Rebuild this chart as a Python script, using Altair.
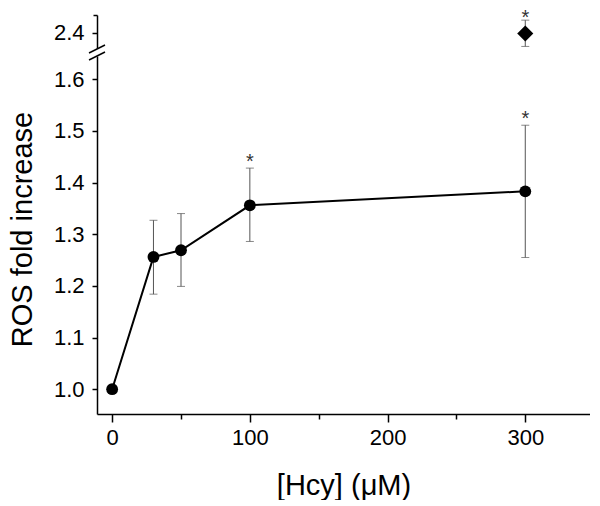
import altair as alt
import pandas as pd

# lower segment data
conc = [0, 30, 50, 100, 300]
ros = [1.0, 1.256, 1.269, 1.356, 1.383]
err_lo = [None, 1.184, 1.199, 1.286, 1.255]
err_hi = [None, 1.327, 1.340, 1.428, 1.511]
stars = ["", "", "", "*", "*"]

# upper (broken-axis) segment data
conc_top = [300]
ros_top = [2.398]
err_lo_top = [2.373]
err_hi_top = [2.424]
stars_top = ["*"]

x_ticks = [0, 50, 100, 150, 200, 250, 300]
y_ticks = [1.0, 1.05, 1.1, 1.15, 1.2, 1.25, 1.3, 1.35, 1.4, 1.45, 1.5, 1.55, 1.6]
y_ticks_top = [2.4, 2.434]

FONT = "Liberation Sans"
XDOM = [-11, 347]
W = 493

df = pd.DataFrame({"conc": conc, "ros": ros, "lo": err_lo, "hi": err_hi, "star": stars})
df_err = df.dropna()
df_star = df[df["star"] != ""]
dtop = pd.DataFrame({"conc": conc_top, "ros": ros_top, "lo": err_lo_top, "hi": err_hi_top, "star": stars_top})

major_y = "abs(round(datum.value*10) - datum.value*10) < 0.001"
major_x = "datum.value % 100 == 0"

xscale = alt.Scale(domain=XDOM, nice=False, zero=False)

x_axis = alt.Axis(
    values=x_ticks,
    labelExpr=f"{major_x} ? datum.label : ''",
    tickSize={"condition": {"test": major_x, "value": 8}, "value": 5},
    labelFontSize=22, labelPadding=5, title="[Hcy] (μM)",
    titleFontSize=29, titlePadding=23, grid=False,
)
y_axis = alt.Axis(
    values=y_ticks,
    labelExpr=f"{major_y} ? format(datum.value, '.1f') : ''",
    tickSize={"condition": {"test": major_y, "value": 5}, "value": 4},
    labelFontSize=22, labelPadding=8, title="ROS fold increase",
    titleFontSize=29, titleX=-60, titleY=173, grid=False,
)
y_axis_top = alt.Axis(
    values=y_ticks_top,
    labelExpr="datum.value < 2.41 ? format(datum.value, '.1f') : ''",
    tickSize={"condition": {"test": "datum.value < 2.41", "value": 5}, "value": 4},
    labelFontSize=22, labelPadding=8, title=None, grid=False,
)

ybot = alt.Scale(domain=[0.952, 1.645], nice=False, zero=False)
ytop = alt.Scale(domain=[2.368, 2.434], nice=False, zero=False)

base = alt.Chart(df)
line = base.mark_line(color="black", strokeWidth=2).encode(
    x=alt.X("conc:Q", scale=xscale, axis=x_axis),
    y=alt.Y("ros:Q", scale=ybot, axis=y_axis),
)
pts = base.mark_point(filled=True, shape="circle", size=140, color="black", opacity=1).encode(
    x="conc:Q", y="ros:Q"
)
ebase = alt.Chart(df_err)
erule = ebase.mark_rule(color="#555555", strokeWidth=1).encode(x="conc:Q", y="lo:Q", y2="hi:Q")
ecap_hi = ebase.mark_tick(color="#555555", orient="horizontal", size=8, thickness=1).encode(x="conc:Q", y="hi:Q")
ecap_lo = ebase.mark_tick(color="#555555", orient="horizontal", size=8, thickness=1).encode(x="conc:Q", y="lo:Q")
star_txt = alt.Chart(df_star).mark_text(fontSize=20, font=FONT, color="#333333", dy=0, baseline="alphabetic").encode(
    x="conc:Q", y="hi:Q", text="star:N"
)
# axis break marks
brk = pd.DataFrame({"k": [0, 1]})
slash1 = alt.Chart(brk).transform_filter("datum.k == 0").mark_rule(color="black", strokeWidth=1.5).encode(
    x=alt.value(-8), x2=alt.value(8), y=alt.value(-3), y2=alt.value(-11)
)
slash2 = alt.Chart(brk).transform_filter("datum.k == 1").mark_rule(color="black", strokeWidth=1.5).encode(
    x=alt.value(-8), x2=alt.value(8), y=alt.value(4), y2=alt.value(-4)
)
blank = alt.Chart(brk).transform_filter("datum.k == 0").mark_rule(color="white", strokeWidth=6).encode(
    x=alt.value(0), y=alt.value(-7), y2=alt.value(0)
)

bottom = alt.layer(erule, ecap_hi, ecap_lo, line, pts, star_txt, blank, slash1, slash2).properties(width=W, height=358)

tbase = alt.Chart(dtop)
t_rule = tbase.mark_rule(color="#555555", strokeWidth=1).encode(
    x=alt.X("conc:Q", scale=xscale, axis=None),
    y=alt.Y("lo:Q", scale=ytop, axis=y_axis_top),
    y2="hi:Q",
)
t_hi = tbase.mark_tick(color="#555555", orient="horizontal", size=8, thickness=1).encode(x="conc:Q", y="hi:Q")
t_lo = tbase.mark_tick(color="#555555", orient="horizontal", size=8, thickness=1).encode(x="conc:Q", y="lo:Q")
t_pt = tbase.mark_point(filled=True, shape="diamond", size=260, color="black", opacity=1).encode(x="conc:Q", y="ros:Q")
t_star = tbase.mark_text(fontSize=20, font=FONT, color="#333333", dy=4, baseline="alphabetic").encode(
    x="conc:Q", y="hi:Q", text="star:N"
)
top = alt.layer(t_rule, t_hi, t_lo, t_pt, t_star).properties(width=W, height=34)

chart = alt.vconcat(top, bottom, spacing=7, bounds="flush").properties(
    padding={"left": 0, "top": 0, "right": 0, "bottom": 0}
).configure_view(stroke=None).configure_axis(
    labelFont=FONT, titleFont=FONT, labelColor="black", titleColor="black",
    titleFontWeight="normal", domainColor="black", tickColor="black",
    domainWidth=1.5, tickWidth=1.5,
)

chart.save("out.html", embed_options={"renderer": "svg", "actions": False})
